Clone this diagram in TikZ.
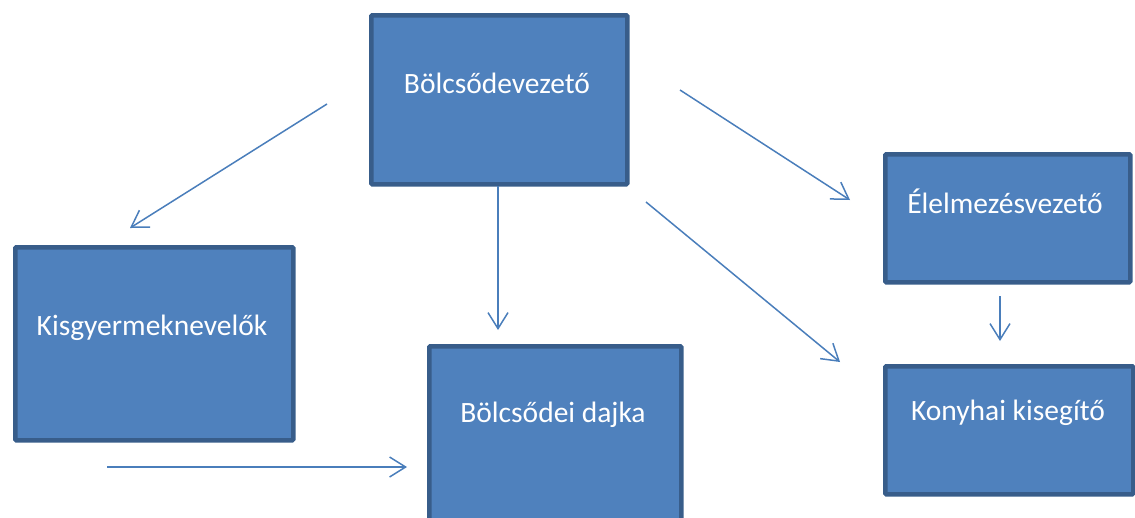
\documentclass[tikz,border=0pt]{standalone}
\usepackage{fontspec}
\setmainfont{Carlito}
\usetikzlibrary{arrows.meta}
\definecolor{boxfill}{HTML}{4F81BD}
\definecolor{boxline}{HTML}{385D8A}
\definecolor{arr}{HTML}{4A7EBB}
\begin{document}
\begin{tikzpicture}[x=1pt,y=-1pt,
 box/.style={draw=boxline, fill=boxfill, line width=4.5pt, rounded corners=1pt, inner sep=0pt, anchor=north west},
 lbl/.style={text=white, font=\fontsize{29.5}{34}\selectfont, inner sep=0pt},
 conn/.style={draw=arr, line width=1.5pt, -{Straight Barb[length=16pt,width=20pt,line width=1.5pt]}}]
\useasboundingbox (0,0) rectangle (1135,517);
\node[box, minimum width=256pt, minimum height=169pt] (bv) at (369,13) {};
\node[box, minimum width=278pt, minimum height=193pt] (kg) at (13,245) {};
\node[box, minimum width=252pt, minimum height=200pt] (bd) at (427,344) {};
\node[box, minimum width=245pt, minimum height=128pt] (ev) at (883,152) {};
\node[box, minimum width=248pt, minimum height=128pt] (kk) at (883,364) {};
\node[lbl] (tbv) at (497,83) {Bölcsődevezető};
\node[lbl] (tkg) at (152,328) {Kisgyermeknevelők};
\node[lbl] (tbd) at (553,415) {Bölcsődei dajka};
\node[lbl] (tev) at (1005,201) {Élelmezésvezető};
\node[lbl] (tkk) at (1008,413) {Konyhai kisegítő};
\coordinate (a1s) at (327,104); \coordinate (a1e) at (130,228);
\coordinate (a2s) at (498,186); \coordinate (a2e) at (498,330);
\coordinate (a3s) at (680,90);  \coordinate (a3e) at (850,200);
\coordinate (a4s) at (646,202); \coordinate (a4e) at (840,362);
\coordinate (a5s) at (1000,296); \coordinate (a5e) at (1000,341);
\coordinate (a6s) at (107,467); \coordinate (a6e) at (407,467);
\draw[conn] (a1s) -- (a1e);
\draw[conn] (a2s) -- (a2e);
\draw[conn] (a3s) -- (a3e);
\draw[conn] (a4s) -- (a4e);
\draw[conn] (a5s) -- (a5e);
\draw[conn] (a6s) -- (a6e);
\end{tikzpicture}
\end{document}
